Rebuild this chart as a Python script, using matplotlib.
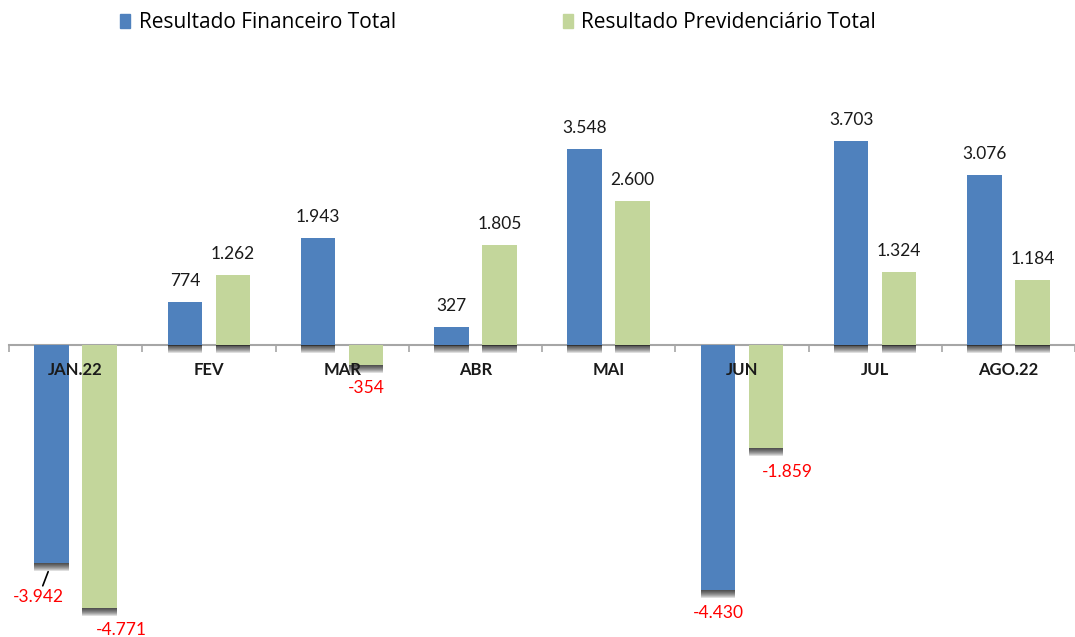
import numpy as np
import matplotlib
matplotlib.use("Agg")
import matplotlib.pyplot as plt
import matplotlib.patheffects as pe
from matplotlib.patches import Patch

cats = ['JAN.22', 'FEV', 'MAR', 'ABR', 'MAI', 'JUN', 'JUL', 'AGO.22']
fin = [-3942, 774, 1943, 327, 3548, -4430, 3703, 3076]
prev = [-4771, 1262, -354, 1805, 2600, -1859, 1324, 1184]
labels = ['Resultado Financeiro Total', 'Resultado Previdenciário Total']

blue = '#4F81BD'
green = '#C3D69B'

plt.rcParams['font.family'] = ['Lato', 'DejaVu Sans']

fig = plt.figure(figsize=(10.75, 6.37), dpi=100)
ax = fig.add_axes([9/1075, 0, 1066/1075, 1])

x = np.arange(len(cats))
w = 0.26
off = 0.18

# soft drop shadow below each bar (stacked layers to fake a blur)
shadow = [pe.SimplePatchShadow(offset=(0, -k * 0.72), shadow_rgbFace='k', alpha=0.13)
          for k in range(8, 0, -1)] + [pe.Normal()]

b1 = ax.bar(x - off, fin, w, color=blue, zorder=1)
b2 = ax.bar(x + off, prev, w, color=green, zorder=1)
for r in list(b1) + list(b2):
    r.set_path_effects(shadow)

ax.set_xlim(-0.5, 7.5)
ax.set_ylim(-5290, 6250)

for s in ['top', 'right', 'left']:
    ax.spines[s].set_visible(False)
ax.spines['bottom'].set_position(('data', 0))
ax.spines['bottom'].set_color('#A6A6A6')
ax.spines['bottom'].set_linewidth(1.5)
ax.spines['bottom'].set_zorder(0.5)
ax.set_yticks([])
ax.set_xticks(x)
ax.set_xticklabels(cats, fontsize=12, fontweight='bold', color='#1a1a1a')
ax.tick_params(axis='x', which='major', length=0, pad=12)
ax.set_xticks(np.arange(len(cats) + 1) - 0.5, minor=True)
ax.tick_params(axis='x', which='minor', length=5, width=1.2, color='#A6A6A6', direction='out')


def fmt(v):
    s = f'{abs(v):,}'.replace(',', '.')
    return ('-' if v < 0 else '') + s


# label offsets in pixels for negative values (dx, dy)
neg_off = {(0, 0): (-13, -34), (0, 1): (22, -22), (1, 2): (23, -26),
           (5, 0): (0, -23), (5, 1): (22, -24)}

for si, (vals, sgn) in enumerate([(fin, -1), (prev, 1)]):
    for i, v in enumerate(vals):
        xp = x[i] + sgn * off
        if v >= 0:
            ax.annotate(fmt(v), (xp, v), xytext=(0, 21 * 0.72), textcoords='offset points',
                        ha='center', va='center', fontsize=12.5, color='#1a1a1a', zorder=5)
        else:
            dx, dy = neg_off.get((i, si), (0, -23))
            arrow = None
            if (i, si) == (0, 0):
                arrow = dict(arrowstyle='-', color='k', lw=1.2, shrinkA=0, shrinkB=7)
            ax.annotate(fmt(v), (xp, v), xytext=(dx * 0.72, dy * 0.72), textcoords='offset points',
                        ha='center', va='center', fontsize=12.5, color='#FF0000', zorder=5,
                        arrowprops=arrow)

handles = [Patch(color=blue), Patch(color=green)]
fig.legend(handles, labels, loc='center', bbox_to_anchor=(498/1075, 1 - 23/637), ncol=2,
           frameon=False, prop={'family': 'Open Sans', 'size': 15},
           handlelength=0.5, handleheight=0.65, handletextpad=0.4, columnspacing=8.0)

fig.savefig('out.png', dpi=100)
